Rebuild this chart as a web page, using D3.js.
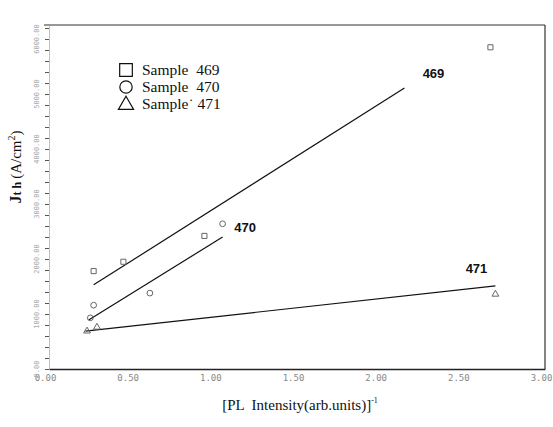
<!DOCTYPE html>
<html>
<head>
<meta charset="utf-8">
<script src="https://cdn.jsdelivr.net/npm/d3@7"></script>
<style>
  body { margin: 0; background: #fff; }
  svg { display: block; }
</style>
</head>
<body>
<div id="chart"></div>
<script>
var width = 553;
var height = 427;

// values
var xTicks = [0, 0.5, 1.0, 1.5, 2.0, 2.5, 3.0];
var yTicks = [0, 1000, 2000, 3000, 4000, 5000, 6000];

var s469x = [0.27, 0.45, 0.94, 2.67];
var s469y = [1780, 1950, 2420, 5850];
var s470x = [0.25, 0.27, 0.61, 1.05];
var s470y = [930, 1160, 1380, 2640];
var s471x = [0.23, 0.29, 2.70];
var s471y = [690, 760, 1360];

// fitted lines: [x0, x1], [y0, y1]
var fit469x = [0.27, 2.15], fit469y = [1530, 5110];
var fit470x = [0.24, 1.05], fit470y = [890, 2400];
var fit471x = [0.22, 2.70], fit471y = [690, 1510];

var legendNames = ["Sample  469", "Sample  470", "Sample\u02D9 471"];

var x = d3.scaleLinear().domain([0, 3]).range([49, 545]);
var y = d3.scaleLinear().domain([0, 6255]).range([369, 25]);

var svg = d3.select("#chart").append("svg")
  .attr("width", width)
  .attr("height", height);

// frame (top and right)
svg.append("line").attr("x1", 44).attr("x2", 545).attr("y1", y(6255)).attr("y2", y(6255))
  .attr("stroke", "#333").attr("stroke-width", 1.2);
svg.append("line").attr("x1", 545).attr("x2", 545).attr("y1", y(6255)).attr("y2", y(0))
  .attr("stroke", "#333").attr("stroke-width", 1.2);

// x axis
var xAxis = d3.axisBottom(x).tickValues(xTicks).tickFormat(d3.format(".2f")).tickSize(0).tickPadding(6);
var gx = svg.append("g").attr("transform", "translate(0," + y(0) + ")").call(xAxis);
gx.select(".domain").attr("stroke", "#222").attr("stroke-width", 1.4);
gx.selectAll("text").attr("fill", "#888").attr("dx", -4)
  .style("font-family", "DejaVu Sans Mono").style("font-size", "9px");

// y axis with dense minor ticks
var yMinor = d3.range(0, 6256, 200);
var gyMinor = svg.append("g").attr("transform", "translate(49,0)")
  .call(d3.axisLeft(y).tickValues(yMinor).tickSize(4).tickFormat(""));
gyMinor.select(".domain").remove();
gyMinor.selectAll("line").attr("stroke", "#555");

var gy = svg.append("g").attr("transform", "translate(49,0)")
  .call(d3.axisLeft(y).tickValues(yTicks).tickSize(0).tickFormat(d3.format(".2f")));
gy.select(".domain").attr("stroke", "#999").attr("stroke-width", 0.6);
gy.selectAll("text")
  .attr("transform", function(d) { return "translate(-12," + y(d) + ") rotate(-90)"; })
  .attr("x", 0).attr("y", 0).attr("dy", "0.35em")
  .attr("text-anchor", "middle")
  .attr("fill", "#aaa")
  .style("font-family", "DejaVu Sans Mono")
  .style("font-size", "7px");
gy.selectAll(".tick").attr("transform", null);

// fit lines
function fitLine(xs, ys) {
  svg.append("line")
    .attr("x1", x(xs[0])).attr("y1", y(ys[0]))
    .attr("x2", x(xs[1])).attr("y2", y(ys[1]))
    .attr("stroke", "#111").attr("stroke-width", 1.2);
}
fitLine(fit469x, fit469y);
fitLine(fit470x, fit470y);
fitLine(fit471x, fit471y);

// markers
function drawPoints(xs, ys, shape, size) {
  var sym = d3.symbol().type(shape).size(size);
  svg.append("g").selectAll("path")
    .data(xs.map(function(d, i) { return [d, ys[i]]; }))
    .enter().append("path")
    .attr("d", sym)
    .attr("transform", function(d) { return "translate(" + x(d[0]) + "," + y(d[1]) + ")"; })
    .attr("fill", "none")
    .attr("stroke", "#666")
    .attr("stroke-width", 1);
}
drawPoints(s469x, s469y, d3.symbolSquare, 26);
drawPoints(s470x, s470y, d3.symbolCircle, 26);
drawPoints(s471x, s471y, d3.symbolTriangle, 20);

// line labels
var labelFont = "'Liberation Sans', Arial, sans-serif";
svg.append("text").attr("x", x(2.26)).attr("y", y(5300)).text("469")
  .style("font-family", labelFont).style("font-size", "13px").style("font-weight", "bold").attr("fill", "#111");
svg.append("text").attr("x", x(1.12)).attr("y", y(2500)).text("470")
  .style("font-family", labelFont).style("font-size", "13px").style("font-weight", "bold").attr("fill", "#111");
svg.append("text").attr("x", x(2.52)).attr("y", y(1750)).text("471")
  .style("font-family", labelFont).style("font-size", "13px").style("font-weight", "bold").attr("fill", "#111");

// legend
var serif = "'Liberation Serif', 'Times New Roman', serif";
var shapes = [d3.symbolSquare, d3.symbolCircle, d3.symbolTriangle];
var sizes = [160, 120, 100];
legendNames.forEach(function(name, i) {
  var ly = 70 + i * 17;
  svg.append("path")
    .attr("d", d3.symbol().type(shapes[i]).size(sizes[i]))
    .attr("transform", "translate(126," + (ly + (i === 2 ? 1 : 0)) + ")")
    .attr("fill", "none").attr("stroke", "#111").attr("stroke-width", 1.2);
  svg.append("text").attr("x", 142).attr("y", ly).attr("dy", "0.35em")
    .text(name)
    .style("font-family", serif).style("font-size", "15.5px").attr("fill", "#111")
    .style("white-space", "pre").attr("xml:space", "preserve");
});

// axis titles
var xt = svg.append("text").attr("x", 300).attr("y", 410).attr("text-anchor", "middle")
  .style("font-family", serif).style("font-size", "15px").attr("fill", "#111");
xt.append("tspan").text("[PL  Intensity(arb.units)]").attr("xml:space", "preserve");
xt.append("tspan").text("-1").attr("dy", -7).style("font-size", "8px");

var yt = svg.append("text")
  .attr("transform", "translate(21,167) rotate(-90)")
  .attr("text-anchor", "middle")
  .style("font-family", serif).style("font-size", "15px").attr("fill", "#111");
yt.append("tspan").text("J").style("font-weight", "bold").style("font-size", "16px");
yt.append("tspan").text("t h").style("font-weight", "bold").style("font-size", "12px").attr("xml:space", "preserve");
yt.append("tspan").text("(A/cm").attr("dx", 3);
yt.append("tspan").text("2").attr("dy", -6).style("font-size", "10px");
yt.append("tspan").text(")").attr("dy", 6);
</script>
</body>
</html>
